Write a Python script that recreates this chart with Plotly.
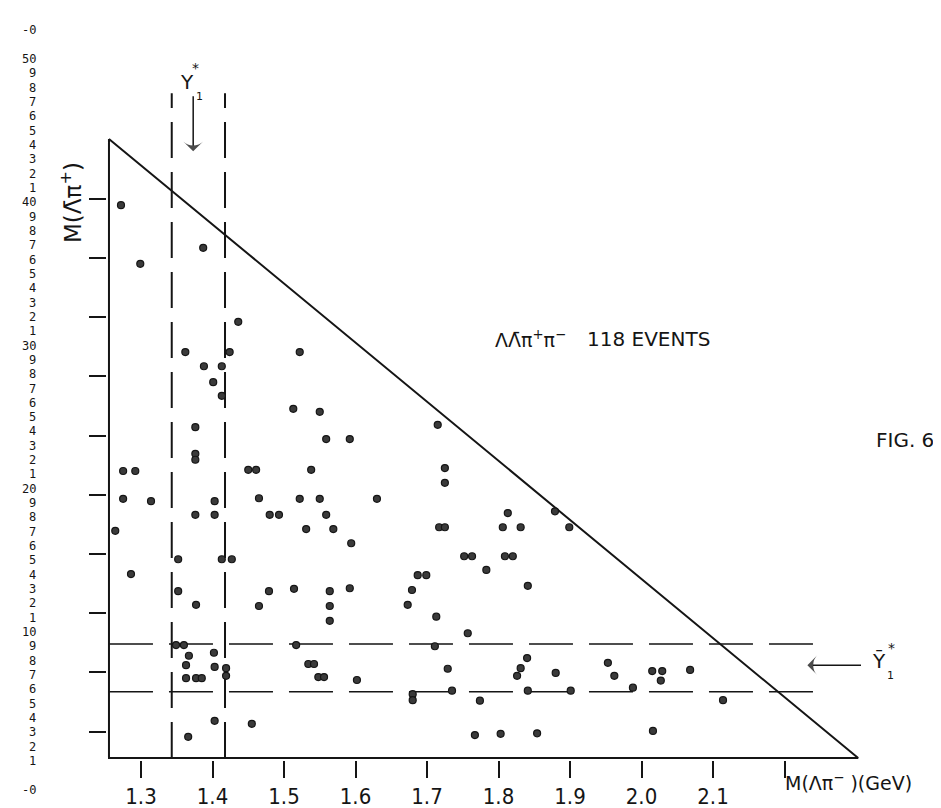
import plotly.graph_objects as go

# ---------------- data (GeV) ----------------
# x: M(Lambda pi-), y: M(antiLambda pi+) for each event
m_lam_pim = [1.272, 1.299, 1.387, 1.436, 1.362, 1.424, 1.522, 1.388, 1.413, 1.401,
             1.513, 1.376, 1.413, 1.550, 1.592, 1.559, 1.715, 1.376, 1.376, 1.275,
             1.292, 1.450, 1.461, 1.538, 1.725, 1.725, 1.275, 1.314, 1.403, 1.465,
             1.522, 1.550, 1.630, 1.264, 1.376, 1.403, 1.480, 1.493, 1.531, 1.559,
             1.569, 1.594, 1.717, 1.725, 1.813, 1.806, 1.831, 1.879, 1.899, 1.286,
             1.352, 1.413, 1.427, 1.514, 1.592, 1.352, 1.479, 1.377, 1.465, 1.564,
             1.564, 1.564, 1.687, 1.699, 1.679, 1.673, 1.713, 1.752, 1.763, 1.809,
             1.820, 1.841, 1.757, 1.349, 1.360, 1.367, 1.363, 1.363, 1.377, 1.385,
             1.402, 1.403, 1.419, 1.419, 1.517, 1.534, 1.542, 1.548, 1.556, 1.602,
             1.711, 1.680, 1.680, 1.729, 1.735, 1.774, 1.831, 1.840, 1.826, 1.841,
             1.880, 1.953, 1.962, 1.988, 2.015, 2.029, 2.027, 2.068, 2.114, 1.366,
             1.403, 1.455, 1.767, 1.803, 1.854, 2.016, 1.901, 1.783]
m_alam_pip = [2.189, 2.090, 2.117, 1.992, 1.941, 1.941, 1.941, 1.917, 1.917, 1.890,
              1.845, 1.814, 1.867, 1.840, 1.794, 1.794, 1.818, 1.769, 1.759, 1.740,
              1.740, 1.742, 1.742, 1.742, 1.745, 1.720, 1.693, 1.689, 1.689, 1.694,
              1.693, 1.693, 1.693, 1.639, 1.666, 1.666, 1.666, 1.666, 1.642, 1.666,
              1.642, 1.618, 1.645, 1.645, 1.669, 1.645, 1.645, 1.672, 1.645, 1.566,
              1.591, 1.591, 1.591, 1.541, 1.542, 1.537, 1.537, 1.514, 1.512, 1.537,
              1.512, 1.487, 1.564, 1.564, 1.539, 1.514, 1.494, 1.596, 1.596, 1.596,
              1.596, 1.546, 1.466, 1.446, 1.446, 1.428, 1.412, 1.390, 1.390, 1.390,
              1.433, 1.409, 1.407, 1.394, 1.446, 1.414, 1.414, 1.392, 1.392, 1.387,
              1.444, 1.363, 1.353, 1.406, 1.369, 1.352, 1.407, 1.424, 1.394, 1.369,
              1.399, 1.416, 1.394, 1.374, 1.402, 1.402, 1.386, 1.404, 1.353, 1.291,
              1.318, 1.313, 1.294, 1.296, 1.297, 1.301, 1.369, 1.573]

x_tick_vals = [1.3, 1.4, 1.5, 1.6, 1.7, 1.8, 1.9, 2.0, 2.1, 2.2]
x_tick_text = ["1.3", "1.4", "1.5", "1.6", "1.7", "1.8", "1.9", "2.0", "2.1", " "]
y_tick_vals = [1.3, 1.4, 1.5, 1.6, 1.7, 1.8, 1.9, 2.0, 2.1, 2.2]

# Dalitz-plot boundary (kinematic limits)
M_MIN = 1.2552
M_MAX_X = 2.303
M_MAX_Y = 2.301
boundary_x = [M_MIN, M_MIN, M_MAX_X, M_MIN]
boundary_y = [M_MAX_Y, M_MIN, M_MIN, M_MAX_Y]

# Y1*(1385) bands
y1_band_x = [1.343, 1.4175]     # vertical band on M(Lambda pi-)
y1_band_y = [1.367, 1.448]      # horizontal band on M(antiLambda pi+)
band_top = 2.378
band_right = 2.261
y1_arrow_x = [1.373, 1.373]
y1_arrow_y = [2.373, 2.280]
y1bar_arrow_x = [2.307, 2.232]
y1bar_arrow_y = [1.412, 1.412]

# scan ruler on the left edge
ruler = ["50"] + [str(i) for i in range(9, 0, -1)] + ["40"] + [str(i) for i in range(9, 0, -1)] + \
        ["30"] + [str(i) for i in range(9, 0, -1)] + ["20"] + [str(i) for i in range(9, 0, -1)] + \
        ["10"] + [str(i) for i in range(9, 0, -1)]

# ---------------- figure ----------------
W, H = 941, 808
L, B = 99, 56
X_RANGE = [1.25245, 2.43007]
Y_RANGE = [1.25186, 2.52213]
INK = "#151515"
NARROW = "Liberation Sans Narrow, DejaVu Sans Condensed, Arial Narrow, sans-serif"
WIDE = "DejaVu Sans, Verdana, sans-serif"
MONO = "DejaVu Sans Mono, monospace"

fig = go.Figure()

# boundary triangle
fig.add_trace(go.Scatter(x=boundary_x, y=boundary_y, mode="lines",
                         line=dict(color=INK, width=2), hoverinfo="skip", showlegend=False))
# dashed band lines
for bx in y1_band_x:
    fig.add_trace(go.Scatter(x=[bx, bx], y=[M_MIN, band_top], mode="lines",
                             line=dict(color=INK, width=2, dash="36px,14px"),
                             hoverinfo="skip", showlegend=False))
for by in y1_band_y:
    fig.add_trace(go.Scatter(x=[M_MIN, band_right], y=[by, by], mode="lines",
                             line=dict(color=INK, width=1.5, dash="44px,16px"),
                             hoverinfo="skip", showlegend=False))
# arrows marking the Y1* bands
for ax_, ay_ in ((y1_arrow_x, y1_arrow_y), (y1bar_arrow_x, y1bar_arrow_y)):
    fig.add_trace(go.Scatter(x=ax_, y=ay_, mode="lines+markers",
                             line=dict(color=INK, width=1.5),
                             marker=dict(symbol="arrow-wide", size=[0, 14], angleref="previous",
                                         color="#000000", line=dict(width=0)),
                             hoverinfo="skip", showlegend=False, cliponaxis=False))
# events
fig.add_trace(go.Scatter(x=m_lam_pim, y=m_alam_pip, mode="markers",
                         marker=dict(size=7, color="#3a3a3a", line=dict(color=INK, width=1.2)),
                         showlegend=False, cliponaxis=False))


def px(xp, yp):
    return (xp - L) / (W - L), (H - B - yp) / (H - B)


annotations = []


def text_at(txt, xp, yp, size, xanchor="center", angle=0, family=WIDE):
    x, y = px(xp, yp)
    annotations.append(dict(text=txt, x=x, y=y, xref="paper", yref="paper",
                            xanchor=xanchor, yanchor="middle", showarrow=False,
                            textangle=angle, font=dict(size=size, color=INK, family=family)))


# ruler numbers
text_at("-0", 30, 22, 12, xanchor="right", family=MONO)
step = (753 - 51) / (len(ruler) - 1)
for i, r in enumerate(ruler):
    text_at(r, 30, 51 + i * step, 12, xanchor="right", family=MONO)
text_at("-0", 30, 782, 12, xanchor="right", family=MONO)

# axis titles & labels
text_at("M(Λ̄π<sup>+</sup>)", 63, 195, 23, angle=-90)
text_at("M(Λπ<sup>−</sup> )(GeV)", 775, 774, 19, xanchor="left")
text_at("ΛΛ̄π<sup>+</sup>π<sup>−</sup>", 485, 331, 19, xanchor="left")
text_at("118 EVENTS", 577, 331, 20, xanchor="left")
text_at("FIG. 6", 866, 432, 20, xanchor="left")
# Y1* label (top)
text_at("Y", 179, 74, 20)
text_at("*", 187, 60, 14)
text_at("1", 191, 89, 11)
# anti-Y1* label (right)
text_at("Ȳ", 871, 653, 20)
text_at("*", 883, 640, 14)
text_at("1", 882, 667, 11)

fig.update_layout(
    width=W, height=H,
    margin=dict(l=L, r=0, t=0, b=B),
    paper_bgcolor="white", plot_bgcolor="white",
    annotations=annotations,
    xaxis=dict(range=X_RANGE, tickvals=x_tick_vals, ticktext=x_tick_text,
               ticks="outside", ticklen=17, tickwidth=2, tickcolor=INK,
               showgrid=False, zeroline=False, showline=False,
               tickfont=dict(size=22, color=INK, family=NARROW)),
    yaxis=dict(range=Y_RANGE, tickvals=y_tick_vals, showticklabels=False,
               ticks="outside", ticklen=17, tickwidth=2, tickcolor=INK,
               showgrid=False, zeroline=False, showline=False),
)

fig.write_html("out.html")
